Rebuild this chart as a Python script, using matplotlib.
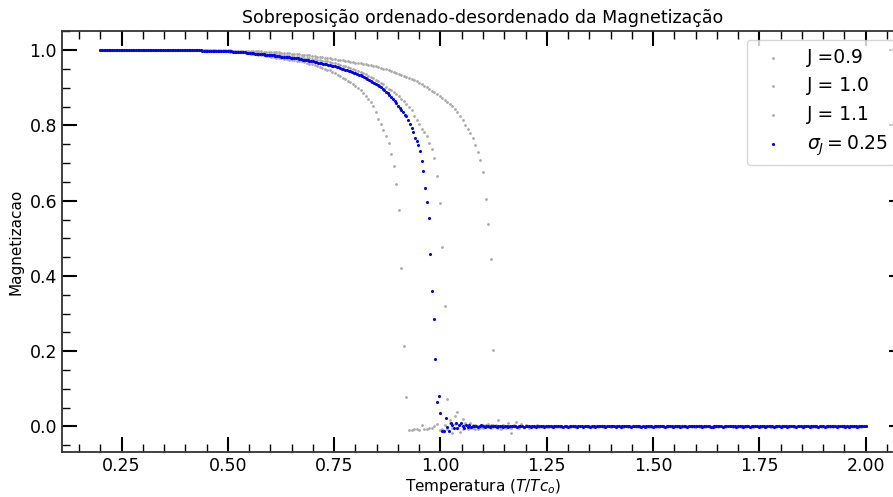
import numpy as np
import matplotlib
matplotlib.use('Agg')
import matplotlib.pyplot as plt

# temperatures (x1000) for the three uniform-J runs
temps_j = [
    200, 206, 212, 218, 224, 230, 236, 242, 248, 254,
    260, 266, 272, 278, 284, 290, 296, 302, 308, 314,
    320, 326, 332, 338, 344, 350, 356, 362, 368, 374,
    380, 386, 392, 398, 404, 410, 416, 422, 428, 434,
    440, 446, 452, 458, 464, 470, 476, 482, 488, 494,
    500, 506, 512, 518, 524, 530, 536, 542, 548, 554,
    560, 566, 572, 578, 584, 590, 596, 602, 608, 614,
    620, 626, 632, 638, 644, 650, 656, 662, 668, 674,
    680, 686, 692, 698, 704, 710, 716, 722, 728, 734,
    740, 746, 752, 758, 764, 770, 776, 782, 788, 794,
    800, 806, 812, 818, 824, 830, 836, 842, 848, 854,
    860, 866, 872, 878, 884, 890, 896, 902, 908, 914,
    920, 926, 932, 938, 944, 950, 956, 962, 968, 974,
    980, 986, 992, 998, 1004, 1010, 1016, 1022, 1028, 1034,
    1040, 1046, 1052, 1058, 1064, 1070, 1076, 1082, 1088, 1094,
    1100, 1106, 1112, 1118, 1124, 1130, 1136, 1142, 1148, 1154,
    1160, 1166, 1172, 1178, 1184, 1190, 1196, 1202, 1208, 1214,
    1220, 1226, 1232, 1238, 1244, 1250, 1256, 1262, 1268, 1274,
    1280, 1286, 1292, 1298, 1304, 1310, 1316, 1322, 1328, 1334,
    1340, 1346, 1352, 1358, 1364, 1370, 1376, 1382, 1388, 1394,
    1400, 1406, 1412, 1418, 1424, 1430, 1436, 1442, 1448, 1454,
    1460, 1466, 1472, 1478, 1484, 1490, 1496, 1502, 1508, 1514,
    1520, 1526, 1532, 1538, 1544, 1550, 1556, 1562, 1568, 1574,
    1580, 1586, 1592, 1598, 1604, 1610, 1616, 1622, 1628, 1634,
    1640, 1646, 1652, 1658, 1664, 1670, 1676, 1682, 1688, 1694,
    1700, 1706, 1712, 1718, 1724, 1730, 1736, 1742, 1748, 1754,
    1760, 1766, 1772, 1778, 1784, 1790, 1796, 1802, 1808, 1814,
    1820, 1826, 1832, 1838, 1844, 1850, 1856, 1862, 1868, 1874,
    1880, 1886, 1892, 1898, 1904, 1910, 1916, 1922, 1928, 1934,
    1940, 1946, 1952, 1958, 1964, 1970, 1976, 1982, 1988, 1994,
    2000]

# magnetization (x1000), J = 0.9
mag_j09 = [
    1000, 1000, 1000, 1000, 1000, 1000, 1000, 1000, 1000, 1000,
    1000, 1000, 1000, 1000, 1000, 1000, 1000, 1000, 1000, 1000,
    1000, 1000, 1000, 1000, 1000, 1000, 1000, 1000, 1000, 1000,
    1000, 1000, 1000, 1000, 1000, 1000, 1000, 1000, 1000, 1000,
    1000, 1000, 1000, 999, 999, 999, 998, 998, 998, 997,
    997, 996, 996, 995, 995, 994, 994, 993, 992, 991,
    990, 989, 988, 987, 986, 985, 984, 983, 982, 980,
    979, 978, 977, 976, 975, 974, 973, 972, 971, 970,
    968, 966, 964, 962, 960, 957, 955, 953, 950, 948,
    946, 943, 939, 935, 931, 927, 923, 919, 915, 910,
    905, 900, 894, 887, 879, 870, 862, 851, 836, 818,
    804, 789, 772, 753, 724, 692, 645, 576, 421, 213,
    78, -10, -9, -8, -6, -9, 5, -7, -6, -5,
    -4, 2, 7, -9, -8, 4, -6, 10, -3, 6,
    -5, 3, -7, 8, -2, -4, 5, -6, 2, -3,
    4, -2, 6, -5, 3, -1, 2, -3, 4, -2,
    1, -3, 2, 0, -2, 3, -1, 2, -2, 1,
    -1, 2, 0, -2, 1, 1, -1, 0, 2, -1,
    0, -1, 1, 2, -2, 0, 1, -1, 0, 1,
    1, 0, -2, 1, 0, -1, 2, 0, -1, 0,
    -2, 1, 0, 0, 1, -1, 0, 2, -1, 1,
    0, 2, -1, 0, -1, 1, 0, -2, 1, 0,
    1, -1, 0, 1, 2, -1, -1, 0, 1, -2,
    0, 1, -1, -2, 0, 1, 2, -1, 0, 0,
    -1, 0, 2, 0, -1, 0, 1, 1, -2, 1,
    2, -1, 0, 1, 0, -2, 0, 1, -1, 0,
    0, 1, 1, -1, -1, 2, 0, -1, 0, 1,
    -1, 0, -1, 2, 1, 0, -2, 0, 1, -1,
    1, -2, 0, 0, 1, -1, 1, 2, 0, -1,
    0, 1, -1, 1, -2, 0, 0, -1, 2, 0,
    1]

# magnetization (x1000), J = 1.0
mag_j10 = [
    1000, 1000, 1000, 1000, 1000, 1000, 1000, 1000, 1000, 1000,
    1000, 1000, 1000, 1000, 1000, 1000, 1000, 1000, 1000, 1000,
    1000, 1000, 1000, 1000, 1000, 1000, 1000, 1000, 1000, 1000,
    1000, 1000, 1000, 1000, 1000, 1000, 1000, 1000, 1000, 1000,
    1000, 1000, 1000, 1000, 1000, 1000, 999, 999, 999, 999,
    998, 998, 998, 997, 997, 997, 996, 996, 996, 995,
    995, 994, 994, 993, 993, 992, 991, 991, 990, 989,
    989, 988, 987, 986, 985, 984, 983, 983, 982, 981,
    980, 979, 978, 977, 976, 975, 974, 972, 971, 970,
    968, 967, 965, 963, 961, 959, 957, 955, 953, 951,
    948, 945, 942, 939, 936, 932, 929, 925, 922, 918,
    913, 909, 903, 898, 893, 888, 883, 877, 871, 864,
    857, 849, 840, 826, 815, 805, 790, 783, 771, 753,
    737, 714, 665, 594, 478, 320, 72, 18, -16, 27,
    38, -15, 20, 6, -7, 10, -4, 3, -6, 2,
    -3, 5, -2, 4, -1, 2, -3, 1, 0, -2,
    2, -1, 1, -2, 0, 1, -1, 2, -1, 0,
    1, 0, -1, 1, 2, -1, 0, -2, 1, 0,
    -1, 2, 0, -1, 0, 1, -2, 1, 0, 1,
    0, -1, 1, 0, -2, 2, 0, 1, -1, 0,
    2, 0, -1, 1, 0, -1, 1, 0, -2, 1,
    -1, 1, 0, 2, -1, 0, -1, 1, 0, -1,
    0, -2, 1, 0, 1, 0, 2, -1, -1, 0,
    1, 0, 0, -1, 2, -2, 1, 0, 1, -1,
    0, 1, -1, 0, -1, 1, 0, 2, 0, -2,
    -1, 0, 2, -1, 1, 0, -1, 0, 1, 1,
    1, -1, 0, 0, -2, 1, 1, -1, 0, 2,
    0, 2, -1, 1, 0, -1, 0, 1, -2, 0,
    -1, 0, 1, -1, 1, 2, -1, 0, 0, 1,
    1, -1, 0, 2, 0, -1, 1, -2, 0, 0,
    0]

# magnetization (x1000), J = 1.1
mag_j11 = [
    1000, 1000, 1000, 1000, 1000, 1000, 1000, 1000, 1000, 1000,
    1000, 1000, 1000, 1000, 1000, 1000, 1000, 1000, 1000, 1000,
    1000, 1000, 1000, 1000, 1000, 1000, 1000, 1000, 1000, 1000,
    1000, 1000, 1000, 1000, 1000, 1000, 1000, 1000, 1000, 1000,
    1000, 1000, 1000, 1000, 1000, 1000, 1000, 1000, 1000, 1000,
    1000, 1000, 999, 999, 999, 999, 999, 998, 998, 998,
    998, 997, 997, 997, 996, 996, 996, 995, 995, 994,
    994, 993, 993, 992, 992, 991, 990, 990, 989, 988,
    987, 987, 986, 985, 984, 983, 982, 981, 980, 979,
    978, 977, 976, 975, 974, 973, 972, 971, 969, 968,
    967, 966, 965, 964, 962, 961, 960, 959, 957, 956,
    953, 951, 949, 947, 944, 942, 939, 936, 934, 931,
    929, 926, 923, 920, 917, 913, 909, 905, 901, 897,
    892, 888, 883, 878, 873, 868, 863, 857, 851, 843,
    835, 825, 814, 802, 791, 779, 766, 749, 730, 707,
    675, 604, 539, 444, 203, 5, 16, -6, 4, -3,
    9, -17, 3, 11, -4, 6, -2, 4, -3, 1,
    -2, 3, -1, 1, 2, -2, 0, 1, -1, 2,
    0, -1, 2, 0, -1, 1, -2, 0, 1, 0,
    1, 0, -1, -2, 1, 0, 1, -1, 0, 2,
    -1, 1, 0, 1, -1, 2, 0, -2, 0, 1,
    0, -2, 1, 0, 0, -1, 1, 1, -1, 0,
    2, 0, -1, 1, -2, 0, 1, 0, -1, 1,
    -1, 1, 0, -1, 1, 0, 2, -1, 0, -2,
    0, -1, 1, 2, 0, -1, 0, 1, -1, 0,
    1, 0, -2, 0, 1, 1, -1, 0, 2, -1,
    -1, 2, 0, -1, 0, -2, 1, 0, 1, 0,
    0, 1, -1, 0, 2, 0, -1, 1, 0, -1,
    2, -1, 0, 1, -1, 0, 0, -2, 1, 1,
    0, 0, 1, -1, 0, 1, -2, 0, -1, 2,
    0]

# temperatures (x1000) for the disordered run
temps_s = [
    200, 204, 208, 212, 216, 220, 224, 228, 232, 236,
    240, 244, 248, 252, 256, 260, 264, 268, 272, 276,
    280, 284, 288, 292, 296, 300, 304, 308, 312, 316,
    320, 324, 328, 332, 336, 340, 344, 348, 352, 356,
    360, 364, 368, 372, 376, 380, 384, 388, 392, 396,
    400, 404, 408, 412, 416, 420, 424, 428, 432, 436,
    440, 444, 448, 452, 456, 460, 464, 468, 472, 476,
    480, 484, 488, 492, 496, 500, 504, 508, 512, 516,
    520, 524, 528, 532, 536, 540, 544, 548, 552, 556,
    560, 564, 568, 572, 576, 580, 584, 588, 592, 596,
    600, 604, 608, 612, 616, 620, 624, 628, 632, 636,
    640, 644, 648, 652, 656, 660, 664, 668, 672, 676,
    680, 684, 688, 692, 696, 700, 704, 708, 712, 716,
    720, 724, 728, 732, 736, 740, 744, 748, 752, 756,
    760, 764, 768, 772, 776, 780, 784, 788, 792, 796,
    800, 804, 808, 812, 816, 820, 824, 828, 832, 836,
    840, 844, 848, 852, 856, 860, 864, 868, 872, 876,
    880, 884, 888, 892, 896, 900, 904, 908, 912, 916,
    920, 924, 928, 932, 936, 940, 944, 948, 952, 956,
    960, 964, 968, 972, 976, 980, 984, 988, 992, 996,
    1000, 1004, 1008, 1012, 1016, 1020, 1024, 1028, 1032, 1036,
    1040, 1044, 1048, 1052, 1056, 1060, 1064, 1068, 1072, 1076,
    1080, 1084, 1088, 1092, 1096, 1100, 1104, 1108, 1112, 1116,
    1120, 1124, 1128, 1132, 1136, 1140, 1144, 1148, 1152, 1156,
    1160, 1164, 1168, 1172, 1176, 1180, 1184, 1188, 1192, 1196,
    1200, 1204, 1208, 1212, 1216, 1220, 1224, 1228, 1232, 1236,
    1240, 1244, 1248, 1252, 1256, 1260, 1264, 1268, 1272, 1276,
    1280, 1284, 1288, 1292, 1296, 1300, 1304, 1308, 1312, 1316,
    1320, 1324, 1328, 1332, 1336, 1340, 1344, 1348, 1352, 1356,
    1360, 1364, 1368, 1372, 1376, 1380, 1384, 1388, 1392, 1396,
    1400, 1404, 1408, 1412, 1416, 1420, 1424, 1428, 1432, 1436,
    1440, 1444, 1448, 1452, 1456, 1460, 1464, 1468, 1472, 1476,
    1480, 1484, 1488, 1492, 1496, 1500, 1504, 1508, 1512, 1516,
    1520, 1524, 1528, 1532, 1536, 1540, 1544, 1548, 1552, 1556,
    1560, 1564, 1568, 1572, 1576, 1580, 1584, 1588, 1592, 1596,
    1600, 1604, 1608, 1612, 1616, 1620, 1624, 1628, 1632, 1636,
    1640, 1644, 1648, 1652, 1656, 1660, 1664, 1668, 1672, 1676,
    1680, 1684, 1688, 1692, 1696, 1700, 1704, 1708, 1712, 1716,
    1720, 1724, 1728, 1732, 1736, 1740, 1744, 1748, 1752, 1756,
    1760, 1764, 1768, 1772, 1776, 1780, 1784, 1788, 1792, 1796,
    1800, 1804, 1808, 1812, 1816, 1820, 1824, 1828, 1832, 1836,
    1840, 1844, 1848, 1852, 1856, 1860, 1864, 1868, 1872, 1876,
    1880, 1884, 1888, 1892, 1896, 1900, 1904, 1908, 1912, 1916,
    1920, 1924, 1928, 1932, 1936, 1940, 1944, 1948, 1952, 1956,
    1960, 1964, 1968, 1972, 1976, 1980, 1984, 1988, 1992, 1996,
    2000]

# magnetization (x1000), sigma_J = 0.25
mag_s025 = [
    1000, 1000, 1000, 1000, 1000, 1000, 1000, 1000, 1000, 1000,
    1000, 1000, 1000, 1000, 1000, 1000, 1000, 1000, 1000, 1000,
    1000, 1000, 1000, 1000, 1000, 1000, 1000, 1000, 1000, 1000,
    1000, 1000, 1000, 1000, 1000, 1000, 1000, 1000, 1000, 1000,
    1000, 1000, 1000, 1000, 1000, 1000, 1000, 1000, 1000, 1000,
    1000, 1000, 1000, 1000, 1000, 1000, 1000, 1000, 1000, 1000,
    999, 999, 999, 999, 999, 999, 999, 999, 998, 998,
    998, 998, 998, 998, 997, 997, 997, 997, 996, 996,
    996, 995, 995, 995, 994, 994, 993, 993, 993, 992,
    992, 991, 991, 990, 990, 989, 989, 988, 988, 987,
    987, 986, 986, 985, 985, 984, 983, 983, 982, 982,
    982, 981, 980, 980, 979, 978, 978, 977, 976, 975,
    975, 974, 973, 972, 971, 970, 969, 968, 967, 966,
    965, 964, 963, 962, 961, 960, 959, 958, 957, 955,
    954, 953, 951, 950, 948, 947, 945, 944, 942, 940,
    938, 937, 935, 933, 931, 929, 927, 924, 921, 918,
    915, 913, 910, 908, 905, 901, 897, 893, 889, 885,
    880, 876, 871, 866, 860, 852, 847, 842, 836, 829,
    824, 815, 805, 794, 782, 767, 758, 748, 732, 706,
    678, 635, 596, 554, 458, 359, 286, 179, 65, 80,
    36, -11, -13, 23, -2, -11, 9, 4, -4, 9,
    -4, 3, 9, 1, -4, 5, -2, 3, -1, 2,
    0, 1, -1, 2, 5, 0, -1, 1, 0, -1,
    0, 1, 0, -1, 1, 0, 0, -1, 1, 0,
    -1, 0, 1, 1, 0, -1, 0, 0, 1, -1,
    0, 0, 1, -1, 0, 1, -1, 0, 0, 1,
    1, -1, 0, 0, 1, 0, -1, 1, 0, 0,
    0, 1, -1, 0, 0, -1, 1, 0, 1, 0,
    -1, 0, 0, 1, -1, 0, 1, 0, -1, 1,
    0, -1, 1, 0, 0, 1, 0, -1, 0, 0,
    1, 0, 0, -1, 1, 0, -1, 0, 1, 0,
    0, 1, -1, 0, 1, 0, 0, 1, -1, 0,
    -1, 0, 1, 0, 0, -1, 1, 0, 0, 1,
    0, 0, -1, 1, 0, 0, 1, -1, 0, 0,
    1, -1, 0, 1, 0, -1, 0, 0, 1, 0,
    0, 1, 0, 0, -1, 1, 0, 1, 0, -1,
    -1, 0, 1, 0, 1, 0, -1, 0, 0, 1,
    0, 0, 0, 1, -1, 0, 1, 0, -1, 0,
    1, 0, -1, 0, 0, 1, 0, -1, 1, 0,
    0, -1, 0, 1, 0, 0, -1, 1, 0, 1,
    -1, 1, 0, 0, -1, 0, 1, 0, 0, -1,
    0, 0, 1, -1, 1, 0, 0, -1, 0, 1,
    1, 0, -1, 0, 0, 1, -1, 0, 1, 0,
    0, 1, 0, -1, 0, 0, 1, 0, -1, 0,
    -1, 0, 0, 1, 0, -1, 0, 1, 0, 1,
    0]

labels = ['J =0.9', 'J = 1.0', 'J = 1.1', r'$\sigma_J = 0.25$']

tj = np.array(temps_j) / 1000.
ts = np.array(temps_s) / 1000.

fig = plt.figure(figsize=(8.93, 4.97), dpi=100)
# axes runs a little past the right edge of the figure, like the original
ax = fig.add_axes([0.0694, 0.0905, 0.9429, 0.8471])

for mag, lab in zip([mag_j09, mag_j10, mag_j11], labels[:3]):
    ax.scatter(tj, np.array(mag) / 1000., s=4, color='darkgray',
               linewidths=0, label=lab)
ax.scatter(ts, np.array(mag_s025) / 1000., s=5, color='blue',
           linewidths=0, label=labels[3])

ax.minorticks_on()
ax.tick_params(which='both', direction='in', top=True, right=True)
ax.tick_params(which='major', length=10.5, width=1.5, labelsize=12.5)
ax.tick_params(which='minor', length=6, width=1)
for sp in ax.spines.values():
    sp.set_linewidth(1.3)
    sp.set_color('#333333')

ax.set_title('Sobreposição ordenado-desordenado da Magnetização', fontsize=12.5)
ax.set_xlabel(r'Temperatura ($T/Tc_o$)', fontsize=11, labelpad=1.5)
ax.set_ylabel('Magnetizacao', fontsize=11)
ax.legend(loc='upper right', fontsize=13.5)

fig.savefig('out.png', dpi=100)
